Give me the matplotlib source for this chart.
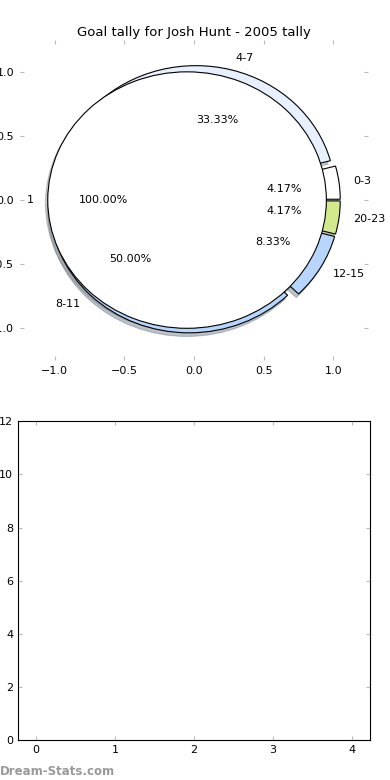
import matplotlib
matplotlib.use("Agg")
import matplotlib.pyplot as plt

# outer ring: goals by minute band
bands = ['0-3', '4-7', '8-11', '12-15', '20-23']
goals = [1, 8, 12, 2, 1]
band_colors = ['#ffffff', '#e8effd', '#b8d6fd', '#b8d6fd', '#d2ea8c']

# inner disc: the single season total
inner_labels = ['1']
inner_vals = [1]

fig = plt.figure(figsize=(3.9, 7.8), dpi=100)

# top panel: the pie, drawn without a frame but with grey ticks
ax = fig.add_axes([0.051, 0.538, 0.893, 0.411])
wp = dict(edgecolor='black', linewidth=0.8)
shd = dict(ox=-0.012, oy=-0.02, shade=0.5, alpha=0.4)
ax.pie(goals, labels=bands, colors=band_colors, explode=[0.05] * len(goals),
       autopct='%1.2f%%', shadow=shd, wedgeprops=wp,
       textprops=dict(fontsize=8))
ax.pie(inner_vals, labels=inner_labels, colors=['white'], explode=[0.05],
       autopct='%1.2f%%', shadow=shd, wedgeprops=wp,
       textprops=dict(fontsize=8))
ax.set_aspect('auto')
ax.set_frame_on(False)
ax.set_xlim(-1.25, 1.25)
ax.set_ylim(-1.25, 1.25)
ticks = [-1.0, -0.5, 0.0, 0.5, 1.0]
ax.set_xticks(ticks)
ax.set_yticks(ticks)
ax.tick_params(direction='in', color='#bbbbbb', length=3, top=True, right=True,
               labelsize=8, pad=4)
ax.set_title('Goal tally for Josh Hunt - 2005 tally', fontsize=9.5, pad=3)

# bottom panel: empty axes
ax2 = fig.add_axes([0.046, 0.051, 0.903, 0.409])
ax2.set_xlim(-0.23, 4.23)
ax2.set_ylim(0, 12)
ax2.set_xticks([0, 1, 2, 3, 4])
ax2.set_yticks([0, 2, 4, 6, 8, 10, 12])
ax2.tick_params(direction='in', color='#bbbbbb', length=3, top=True, right=True,
                labelsize=8)

fig.text(0.0, 0.007, 'Dream-Stats.com', color='#999999', fontsize=8.5,
         fontweight='bold')

fig.savefig('out.png', dpi=100)
